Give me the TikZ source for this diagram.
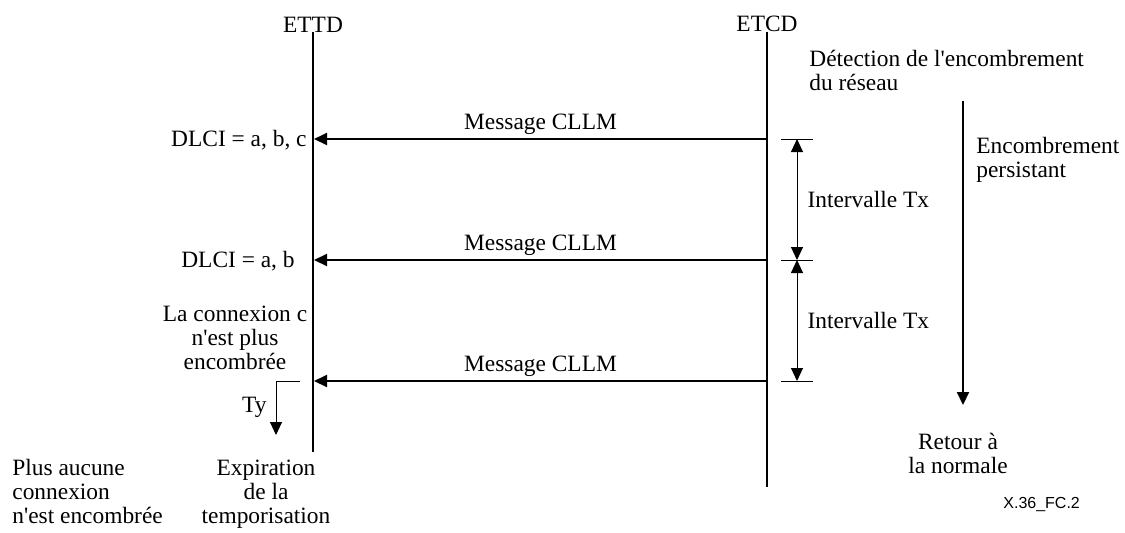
\documentclass[tikz,border=0pt]{standalone}
\usepackage{fontspec}
\setmainfont{Liberation Serif}
\newfontfamily\codefont{Liberation Sans}
\usetikzlibrary{arrows.meta}

\tikzset{
  lbl/.style={inner sep=0pt, font={\fontsize{11.7}{11.8}\selectfont}},
  life/.style={line width=1pt},
  msg/.style={line width=1pt, -{Triangle[length=6.5pt,width=6pt]}},
  intv/.style={line width=0.5pt, {Triangle[length=6.5pt,width=6pt]}-{Triangle[length=6.5pt,width=6pt]}},
  tickmark/.style={line width=0.5pt},
  delay/.style={line width=0.5pt, -{Triangle[length=6.5pt,width=6pt]}}
}

\begin{document}
\begin{tikzpicture}[x=0.5pt, y=-0.5pt]

\useasboundingbox (0,0) rectangle (1125,532);

% the two stations
\node [lbl, anchor=base] (ettd) at (313,32) {ETTD};
\node [lbl, anchor=base] (etcd) at (767,31) {ETCD};

\coordinate (ettd-end) at (313,452);
\coordinate (etcd-end) at (767,487);

\draw [life] (ettd.south) -- (ettd-end);
\draw [life] (etcd.south) -- (etcd-end);

% messages
\coordinate (m1-r) at (767,139);
\coordinate (m1-l) at (314,139);
\coordinate (m2-r) at (767,260);
\coordinate (m2-l) at (314,260);
\coordinate (m3-r) at (767,381);
\coordinate (m3-l) at (314,381);

\draw [msg] (m1-r) -- node [lbl, above=1.5pt] (msg1) {Message CLLM} (m1-l);
\draw [msg] (m2-r) -- node [lbl, above=1.5pt] (msg2) {Message CLLM} (m2-l);
\draw [msg] (m3-r) -- node [lbl, above=1.5pt] (msg3) {Message CLLM} (m3-l);

\node [lbl, anchor=base east] (dlci1) at (307,146) {DLCI = a, b, c};
\node [lbl, anchor=base east] (dlci2) at (295,267) {DLCI = a, b};

\node [lbl, anchor=base, align=center] (conn-c) at (235,369)
{La connexion c\\n\textquotesingle est plus\\encombrée};

% timer Ty
\coordinate (ty-a) at (300,381);
\coordinate (ty-b) at (276,435);
\draw [delay] (ty-a) -| (ty-b);
\node [lbl, anchor=base east] (ty) at (267,412) {Ty};

\node [lbl, anchor=base, align=center] (expir) at (266,523)
{Expiration\\de la\\temporisation};

\node [lbl, anchor=base west, align=left] (plus) at (12,523)
{Plus aucune\\connexion\\n\textquotesingle est encombrée};

% intervals Tx
\coordinate (tx1) at (797,139);
\coordinate (tx2) at (797,260);
\coordinate (tx3) at (797,381);

\draw [tickmark] ([xshift=-8pt]tx1) -- ([xshift=8pt]tx1);
\draw [tickmark] ([xshift=-8pt]tx2) -- ([xshift=8pt]tx2);
\draw [tickmark] ([xshift=-8pt]tx3) -- ([xshift=8pt]tx3);

\draw [intv] (tx1) -- node [lbl, right=5pt] (int1) {Intervalle Tx} (tx2);
\draw [intv] (tx2) -- node [lbl, right=5pt] (int2) {Intervalle Tx} (tx3);

% network side
\node [lbl, anchor=base west, align=left] (detect) at (809,90)
{Détection de l\textquotesingle encombrement\\du réseau};

\coordinate (pers-top) at (963,101);
\coordinate (pers-end) at (963,405);
\draw [msg] (pers-top) -- (pers-end);

\node [lbl, anchor=base west, align=left] (persist) at (976,177)
{Encombrement\\persistant};

\node [lbl, anchor=base, align=center] (retour) at (958,473)
{Retour à\\la normale};

\node [inner sep=0pt, anchor=base west, font={\codefont\fontsize{8}{8}\selectfont}] (figcode)
 at (1003,508) {X.36\_FC.2};

\end{tikzpicture}
\end{document}
